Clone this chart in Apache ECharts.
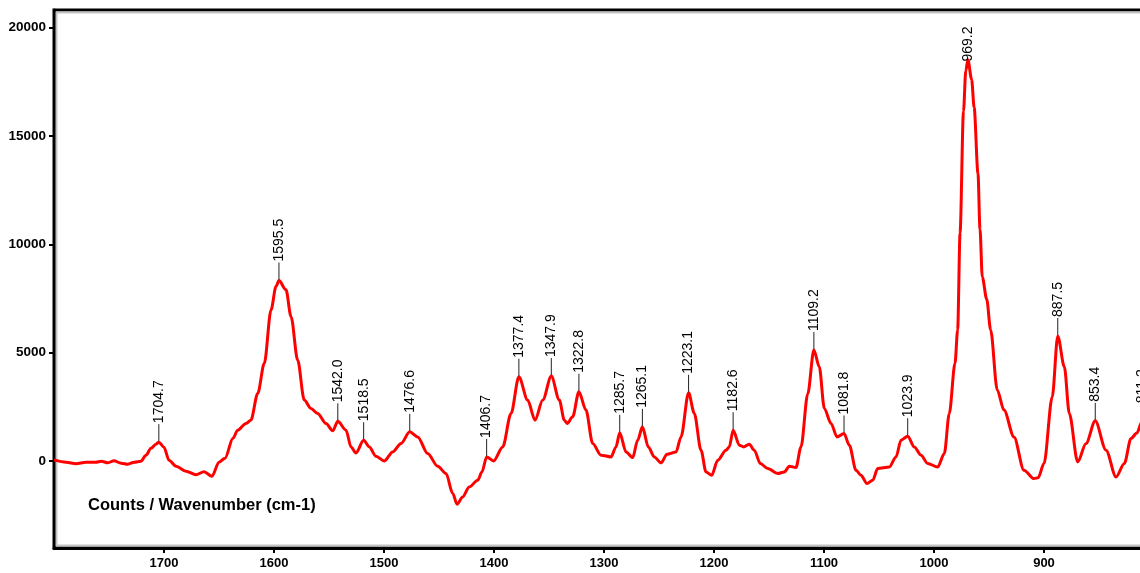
<!DOCTYPE html>
<html>
<head>
<meta charset="utf-8">
<title>Raman spectrum</title>
<script src="https://cdn.jsdelivr.net/npm/echarts@6/dist/echarts.min.js"></script>
<style>
  html, body { margin: 0; padding: 0; background: #ffffff; }
  #chart { width: 1140px; height: 573px; }
</style>
</head>
<body>
<div id="chart"></div>
<script>
// Spectrum samples, wavenumber (cm-1) in descending order with the matching counts
const wavenumber = [
  1800, 1789, 1780, 1771, 1762, 1757, 1751, 1745.5, 1739, 1733, 1727, 1721, 1716.4, 1711.8, 1707.3,
  1704.7, 1700, 1695.5, 1689, 1680, 1671, 1663.6, 1656.4, 1650, 1644.5, 1637.3, 1633, 1625.5, 1621,
  1614.8, 1608.8, 1602.7, 1598.2, 1595.5, 1589.1, 1584.5, 1578.5, 1572.5, 1566.4, 1560.3, 1552.7,
  1546.6, 1542.0, 1534.5, 1530, 1525.5, 1518.5, 1513.4, 1507.3, 1499.7, 1492.1, 1484.5, 1476.6,
  1469.4, 1460.3, 1451.2, 1443.6, 1437.5, 1433.6, 1428.5, 1422.5, 1414.8, 1411, 1406.7, 1400.3,
  1392.1, 1384.5, 1377.4, 1369.4, 1362.7, 1355.7, 1347.9, 1340.6, 1336.1, 1333.5, 1328.5, 1322.8,
  1316.4, 1310.3, 1302.7, 1293.6, 1289.1, 1285.7, 1280, 1273.9, 1269.4, 1265.1, 1259.7, 1254.3,
  1248.2, 1242.7, 1234.5, 1230, 1223.1, 1217.9, 1211.8, 1207.3, 1202.1, 1196.6, 1189.1, 1186.1,
  1182.6, 1177, 1173, 1167.9, 1163.4, 1157.9, 1151.2, 1142.1, 1136.1, 1131.5, 1125.5, 1120.9,
  1114.8, 1109.2, 1104.3, 1099.7, 1093.6, 1088.2, 1081.8, 1077, 1070.9, 1066.4, 1060.9, 1055.7,
  1051.2, 1040.6, 1034.5, 1030, 1023.9, 1017.9, 1011.8, 1005.7, 996.6, 990.6, 986.1, 980.9, 978.5,
  976.3, 973.2, 971.1, 969.2, 965.8, 963.5, 960, 958.2, 956.1, 952.1, 948.5, 942.5, 936.4, 927.3,
  918.2, 909.1, 905.3, 900, 892.5, 887.5, 881.5, 877, 869.4, 861.8, 853.4, 843.6, 834.5, 827,
  820.9, 815.5, 811.2, 805, 800
];
const counts = [
  60, -46, -115, -46, -46, 0, -70, 23, -92, -140, -46, 0, 277, 600, 785,
  880, 650, 46, -230, -460, -620, -485, -690, -46, 140, 1060, 1432, 1741, 1894,
  3127, 4513, 6975, 8051, 8330, 7900, 6665, 4665, 2818, 2434, 2203, 1741,
  1400, 1840, 1432, 660, 383, 970, 660, 231, 14, 430, 818, 1353,
  1122, 356, -231, -568, -1492, -1986, -1649, -1187, -878, -500, 199, 14,
  660, 2203, 3894, 2818, 1894, 2818, 3926, 2818, 1894, 1741, 2046, 3201,
  2356, 818, 277, 199, 660, 1307, 430, 171, 970, 1584, 660, 199,
  -78, 323, 430, 1122, 3155, 2203, 508, -494, -647, 46, 508, 660,
  1432, 739, 660, 785, 508, -106, -337, -568, -494, -231, -291, 660,
  3100, 5127, 4356, 2434, 1741, 1122, 1279, 739, -416, -647, -1030, -878,
  -337, -263, 199, 970, 1155, 660, 277, -106, -263, 356, 2203, 4513, 6051,
  10530, 16130, 18000, 18510, 17600, 16300, 13250, 10700, 8490, 7475, 6051, 3280, 2356, 1122,
  -416, -800, -762, -106, 2970, 5774, 4356, 2203, -32, 818, 1861, 508, -725, -106,
  1048, 1300, 1800, 1500, 900
];

// Picked peak positions (cm-1); each label sits on the spectrum sample at that position
const peakPositions = [
  1704.7, 1595.5, 1542.0, 1518.5, 1476.6, 1406.7, 1377.4, 1347.9, 1322.8, 1285.7,
  1265.1, 1223.1, 1182.6, 1109.2, 1081.8, 1023.9, 969.2, 887.5, 853.4, 811.2
];

const xTickRange = [800, 1800];
const yTickRange = [-4000, 20800];
const axisTitle = 'Counts / Wavenumber (cm-1)';

const FONT = '"Liberation Sans", Arial, Helvetica, sans-serif';

const spectrum = wavenumber.map((w, i) => [w, counts[i]]);
const peaks = peakPositions.map(p => {
  const i = wavenumber.indexOf(p);
  return [p, counts[i], p.toFixed(1)];
});

const chart = echarts.init(document.getElementById('chart'), null, { renderer: 'canvas' });

const GRID_TOP = 10;
const GRID_LEFT = 54;
const GRID_WIDTH = 1100;
const GRID_HEIGHT = 538;

chart.setOption({
  animation: false,
  backgroundColor: '#ffffff',
  grid: [
    { left: GRID_LEFT, top: GRID_TOP, width: GRID_WIDTH, height: GRID_HEIGHT, show: true,
      outerBoundsMode: 'none', containLabel: false,
      borderColor: '#000000', borderWidth: 3, backgroundColor: 'transparent' },
    // light inner rule just inside the black frame
    { left: GRID_LEFT + 2.5, top: GRID_TOP + 2.5, width: GRID_WIDTH, height: GRID_HEIGHT - 5, show: true,
      outerBoundsMode: 'none', containLabel: false,
      borderColor: '#c4c4c4', borderWidth: 2, backgroundColor: 'transparent', z: 1 }
  ],
  xAxis: [
    {
      type: 'value', gridIndex: 0, inverse: true,
      min: xTickRange[0], max: xTickRange[1], interval: 100,
      axisLine: { show: true, onZero: false, lineStyle: { color: '#000', width: 3 } },
      axisTick: { show: true, inside: false, length: 5, lineStyle: { color: '#000', width: 2 } },
      axisLabel: { showMaxLabel: false, showMinLabel: false, margin: 9,
        color: '#000', fontFamily: FONT, fontWeight: 'bold', fontSize: 13,
        formatter: v => String(v) },
      splitLine: { show: false }
    },
    { type: 'value', gridIndex: 1, show: false, min: 0, max: 1 }
  ],
  yAxis: [
    {
      type: 'value', gridIndex: 0,
      min: yTickRange[0], max: yTickRange[1], splitNumber: 5,
      axisLine: { show: true, onZero: false, lineStyle: { color: '#000', width: 3 } },
      axisTick: { show: true, inside: false, length: 5, lineStyle: { color: '#000', width: 2 } },
      axisLabel: { showMaxLabel: false, showMinLabel: false, margin: 8,
        color: '#000', fontFamily: FONT, fontWeight: 'bold', fontSize: 13.5,
        formatter: v => String(v) },
      splitLine: { show: false }
    },
    { type: 'value', gridIndex: 1, show: false, min: 0, max: 1 }
  ],
  graphic: [
    {
      type: 'text', left: 88, top: 497, z: 10,
      style: { text: axisTitle, fill: '#000', font: 'bold 16.5px ' + FONT }
    }
  ],
  series: [
    {
      type: 'line', name: 'spectrum', xAxisIndex: 0, yAxisIndex: 0,
      data: spectrum, showSymbol: false, symbol: 'none',
      smooth: 0.3, smoothMonotone: 'x',
      lineStyle: { color: '#ff0000', width: 3, join: 'round' },
      z: 3, clip: true
    },
    {
      type: 'custom', name: 'peaks', xAxisIndex: 0, yAxisIndex: 0,
      data: peaks, clip: false, z: 5,
      encode: { x: 0, y: 1 },
      renderItem: function (params, api) {
        const p = api.coord([api.value(0), api.value(1)]);
        const text = peaks[params.dataIndex][2];
        const textLen = text.length * 7.3;
        const gridTop = params.coordSys.y;
        // label foot: just above the peak, pushed down if the label would leave the plot
        const foot = Math.max(p[1] - 18, gridTop + 16 + textLen);
        const children = [];
        if (foot < p[1] - 2) {
          children.push({
            type: 'line',
            shape: { x1: p[0], y1: p[1] - 1, x2: p[0], y2: foot },
            style: { stroke: '#222', lineWidth: 1 }
          });
        }
        children.push({
          type: 'text',
          x: p[0], y: foot - 1,
          rotation: Math.PI / 2,
          style: {
            text: text, fill: '#000', font: '14px ' + FONT,
            align: 'left', verticalAlign: 'middle'
          }
        });
        return { type: 'group', children: children };
      }
    }
  ]
});
</script>
</body>
</html>
